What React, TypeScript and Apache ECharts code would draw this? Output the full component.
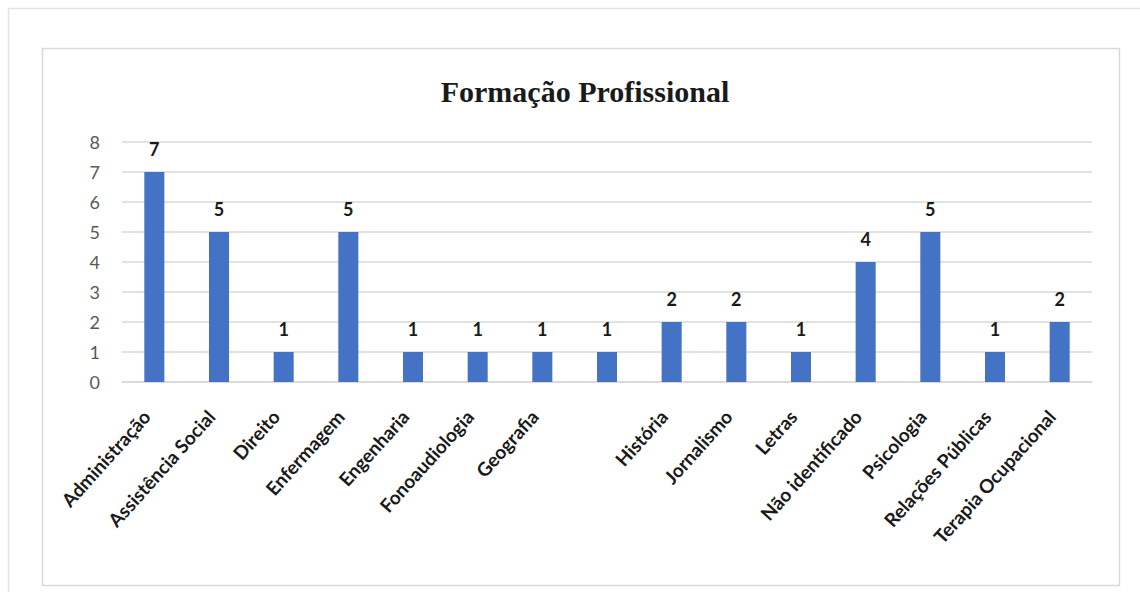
import React, { useEffect, useRef } from "react";
import * as echarts from "echarts";

// Course areas and the number of people in each
const categories: string[] = [
  "Administração",
  "Assistência Social",
  "Direito",
  "Enfermagem",
  "Engenharia",
  "Fonoaudiologia",
  "Geografia",
  "",
  "História",
  "Jornalismo",
  "Letras",
  "Não identificado",
  "Psicologia",
  "Relações Públicas",
  "Terapia Ocupacional",
];
const counts: number[] = [7, 5, 1, 5, 1, 1, 1, 1, 2, 2, 1, 4, 5, 1, 2];

const chartTitle = "Formação Profissional";

export default function App() {
  const ref = useRef<HTMLDivElement>(null);

  useEffect(() => {
    if (!ref.current) return;
    const chart = echarts.init(ref.current, null, { renderer: "svg" });
    chart.setOption({
      animation: false,
      backgroundColor: "#ffffff",
      graphic: [
        {
          type: "rect",
          shape: { x: 8.5, y: 8.5, width: 1140, height: 600 },
          style: { fill: "none", stroke: "#e3e3e3", lineWidth: 1.5 },
          silent: true,
        },
        {
          type: "rect",
          shape: { x: 42.5, y: 48.5, width: 1077, height: 537 },
          style: { fill: "none", stroke: "#d9d9d9", lineWidth: 1.5 },
          silent: true,
        },
      ],
      title: {
        text: chartTitle,
        left: 580,
        top: 71,
        textAlign: "center",
        textStyle: {
          fontFamily: "Liberation Serif",
          fontWeight: "bold",
          fontSize: 30,
          color: "#1a1a1a",
        },
      },
      grid: { left: 122, right: 48, top: 142, bottom: 210 },
      xAxis: {
        type: "category",
        data: categories,
        axisLine: { lineStyle: { color: "#d9d9d9", width: 1.5 } },
        axisTick: { show: false },
        axisLabel: {
          interval: 0,
          rotate: 48,
          margin: 22,
          padding: [0, 12, 0, 0],
          fontFamily: "Lato",
          fontWeight: "bold",
          fontSize: 19,
          color: "#1a1a1a",
        },
      },
      yAxis: {
        type: "value",
        min: 0,
        max: 8,
        interval: 1,
        axisLine: { show: false },
        axisTick: { show: false },
        splitLine: { lineStyle: { color: "#d9d9d9", width: 1.5 } },
        axisLabel: {
          margin: 22,
          fontFamily: "Lato",
          fontSize: 18,
          color: "#595959",
        },
      },
      series: [
        {
          type: "bar",
          data: counts,
          barWidth: "31%",
          itemStyle: { color: "#4472c4" },
          label: {
            show: true,
            position: "top",
            distance: 14,
            fontFamily: "Lato",
            fontWeight: "bold",
            fontSize: 18,
            color: "#1a1a1a",
          },
        },
      ],
    });
    return () => chart.dispose();
  }, []);

  return (
    <div
      ref={ref}
      style={{ position: "fixed", left: 0, top: 0, width: 1140, height: 592 }}
    />
  );
}
